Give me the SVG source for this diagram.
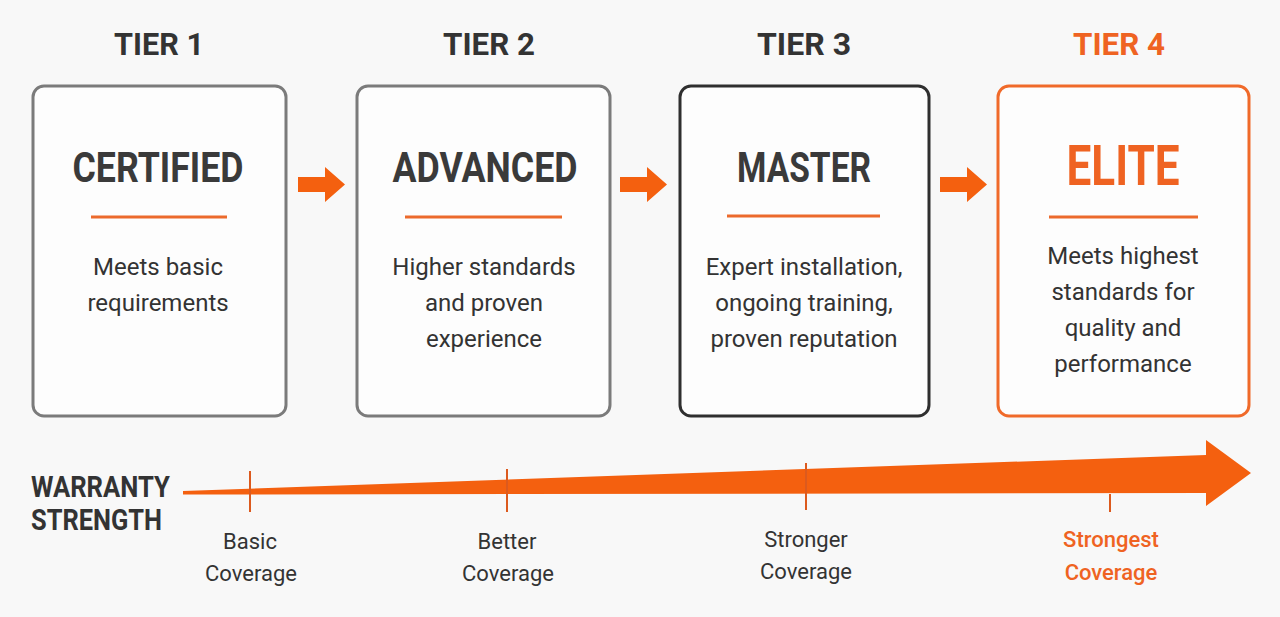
<svg xmlns="http://www.w3.org/2000/svg" width="1280" height="617" viewBox="0 0 1280 617">
<style>
.bg{fill:#f8f8f8}
.box{fill:#fdfdfd;stroke-width:3}
.gray{stroke:#7b7b7b}
.dark{stroke:#2f2f2f}
.orng{stroke:#f06a2a}
.tier{font-family:Roboto,"Liberation Sans",sans-serif;font-weight:700;font-size:32px;fill:#333;text-anchor:middle}
.title{font-family:Roboto,"Liberation Sans",sans-serif;font-weight:700;font-size:42px;fill:#3a3a3a;text-anchor:middle}
.desc{font-family:Roboto,"Liberation Sans",sans-serif;font-weight:400;font-size:24px;fill:#333;text-anchor:middle}
.rule{stroke:#ec6a2c;stroke-width:3}
.arrow{fill:#f4600f}
.tick{stroke:#dc5a1e;stroke-width:2}
.axis{font-family:Roboto,"Liberation Sans",sans-serif;font-weight:700;font-size:29px;fill:#333}
.cov{font-family:Roboto,"Liberation Sans",sans-serif;font-weight:400;font-size:22px;fill:#333;text-anchor:middle}
.hl{fill:#ef6322}
</style>
<rect class="bg" x="0" y="0" width="1280" height="617"/>

<g id="tier1">
<text class="tier" x="159" y="55" textLength="90" lengthAdjust="spacingAndGlyphs">TIER 1</text>
<rect class="box gray" x="33" y="86" width="253" height="330" rx="11"/>
<text class="title" x="158" y="182" textLength="171" lengthAdjust="spacingAndGlyphs">CERTIFIED</text>
<line class="rule" x1="91" y1="217" x2="227" y2="217"/>
<text class="desc" x="158" y="275">Meets basic</text>
<text class="desc" x="158" y="311">requirements</text>
</g>

<g id="tier2">
<text class="tier" x="489" y="55" textLength="92" lengthAdjust="spacingAndGlyphs">TIER 2</text>
<rect class="box gray" x="357" y="86" width="253" height="330" rx="11"/>
<text class="title" x="485" y="182" textLength="185" lengthAdjust="spacingAndGlyphs">ADVANCED</text>
<line class="rule" x1="405" y1="217" x2="562" y2="217"/>
<text class="desc" x="484" y="275">Higher standards</text>
<text class="desc" x="484" y="311">and proven</text>
<text class="desc" x="484" y="347">experience</text>
</g>

<g id="tier3">
<text class="tier" x="804" y="55" textLength="94" lengthAdjust="spacingAndGlyphs">TIER 3</text>
<rect class="box dark" x="680" y="86" width="249" height="330" rx="11"/>
<text class="title" x="804" y="182" textLength="134" lengthAdjust="spacingAndGlyphs">MASTER</text>
<line class="rule" x1="727" y1="216" x2="880" y2="216"/>
<text class="desc" x="804" y="275">Expert installation,</text>
<text class="desc" x="804" y="311">ongoing training,</text>
<text class="desc" x="804" y="347">proven reputation</text>
</g>

<g id="tier4">
<text class="tier hl" x="1119" y="55" textLength="92" lengthAdjust="spacingAndGlyphs">TIER 4</text>
<rect class="box orng" x="998" y="86" width="251" height="330" rx="11"/>
<text class="title hl" x="1123" y="185" style="font-size:56px" textLength="113" lengthAdjust="spacingAndGlyphs">ELITE</text>
<line class="rule" x1="1049" y1="217" x2="1198" y2="217"/>
<text class="desc" x="1123" y="264">Meets highest</text>
<text class="desc" x="1123" y="300">standards for</text>
<text class="desc" x="1123" y="336">quality and</text>
<text class="desc" x="1123" y="372">performance</text>
</g>

<g id="connectors">
<polygon class="arrow" points="298,177 325,177 325,167 345,184.5 325,202 325,192 298,192"/>
<polygon class="arrow" points="620,177 647,177 647,167 667,184.5 647,202 647,192 620,192"/>
<polygon class="arrow" points="940,177 967,177 967,167 987,184.5 967,202 967,192 940,192"/>
</g>

<g id="warranty">
<text class="axis" x="31" y="497" textLength="139" lengthAdjust="spacingAndGlyphs">WARRANTY</text>
<text class="axis" x="31" y="530" textLength="131" lengthAdjust="spacingAndGlyphs">STRENGTH</text>
<polygon class="arrow" points="183,491 1206,455 1206,440 1251,473 1206,506 1206,493 183,494.5"/>
<line class="tick" x1="250" y1="471" x2="250" y2="512"/>
<line class="tick" x1="507" y1="469" x2="507" y2="512"/>
<line class="tick" x1="806" y1="463" x2="806" y2="510"/>
<line class="tick" x1="1110" y1="494" x2="1110" y2="512"/>
<text class="cov" x="250" y="549">Basic</text>
<text class="cov" x="251" y="581">Coverage</text>
<text class="cov" x="507" y="549">Better</text>
<text class="cov" x="508" y="581">Coverage</text>
<text class="cov" x="806" y="547">Stronger</text>
<text class="cov" x="806" y="579">Coverage</text>
<text class="cov hl" x="1111" y="547" style="font-weight:500">Strongest</text>
<text class="cov hl" x="1111" y="580" style="font-weight:500">Coverage</text>
</g>
</svg>
